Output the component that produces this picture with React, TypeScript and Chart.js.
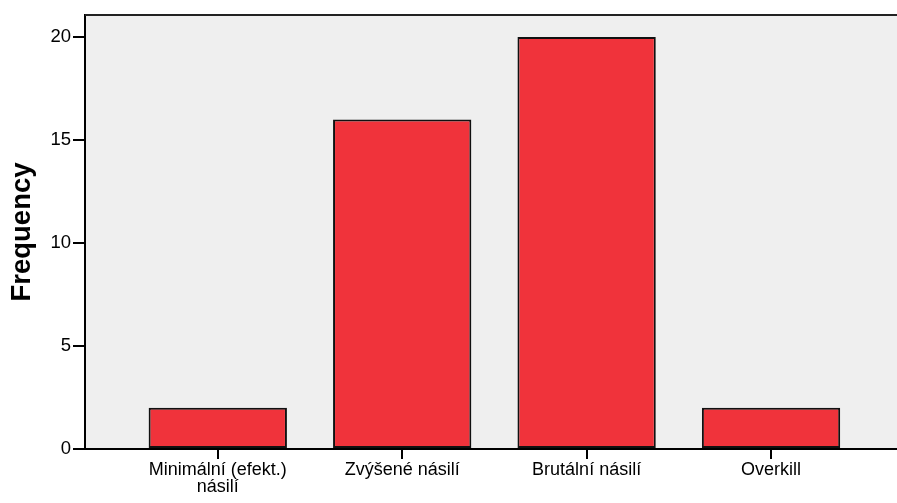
import React, { useEffect, useRef } from "react";
import { Chart, registerables } from "chart.js";

Chart.register(...registerables);

const categories: string[][] = [
  ["Minimální (efekt.)", "násilí"],
  ["Zvýšené násilí"],
  ["Brutální násilí"],
  ["Overkill"],
];
const frequencies: number[] = [2, 16, 20, 2];
const yTicks: number[] = [0, 5, 10, 15, 20];
const yTitle = "Frequency";

const FONT = "Arial, 'Liberation Sans', sans-serif";

const plotFrame = {
  id: "plotFrame",
  beforeDraw(chart: any) {
    const { ctx, chartArea } = chart;
    ctx.save();
    ctx.fillStyle = "#EFEFEF";
    ctx.fillRect(chartArea.left, chartArea.top, chartArea.right - chartArea.left, chartArea.bottom - chartArea.top);
    ctx.restore();
  },
  afterDraw(chart: any) {
    const { ctx, chartArea } = chart;
    ctx.save();
    ctx.strokeStyle = "#222222";
    ctx.lineWidth = 2;
    ctx.beginPath();
    ctx.moveTo(chartArea.left, chartArea.top);
    ctx.lineTo(chartArea.right, chartArea.top);
    ctx.stroke();
    ctx.restore();
  },
};

export default function App() {
  const canvasRef = useRef<HTMLCanvasElement | null>(null);

  useEffect(() => {
    document.body.style.margin = "0";
    const canvas = canvasRef.current;
    if (!canvas) return;
    const chart = new Chart(canvas, {
      type: "bar",
      data: {
        datasets: [
          {
            data: frequencies.map((v, i) => ({ x: i, y: v })),
            backgroundColor: "#F0333B",
            borderColor: "#111111",
            borderWidth: 2,
            borderSkipped: false,
            categoryPercentage: 0.75,
            barPercentage: 1,
          },
        ],
      },
      options: {
        animation: false,
        responsive: false,
        devicePixelRatio: 1,
        layout: { padding: { top: 15, left: 0, right: 0, bottom: 0 } },
        plugins: { legend: { display: false }, tooltip: { enabled: false } },
        scales: {
          x: {
            type: "linear",
            offset: false,
            min: -0.72,
            max: 3.683,
            afterBuildTicks: (scale: any) => {
              scale.ticks = categories.map((_, i) => ({ value: i }));
            },
            afterFit: (scale: any) => {
              scale.height = 54;
            },
            ticks: {
              autoSkip: false,
              maxRotation: 0,
              minRotation: 0,
              padding: 2,
              color: "#000",
              font: { family: FONT, size: 18, lineHeight: 0.95 },
              callback: (v: any) => {
                const c = categories[Math.round(Number(v))];
                return c ? c : "";
              },
            },
            grid: {
              offset: false,
              drawOnChartArea: false,
              drawTicks: true,
              tickLength: 10,
              color: "#000",
              lineWidth: 2,
            },
            border: { display: true, color: "#000", width: 2 },
          },
          y: {
            min: 0,
            max: 21.07,
            afterBuildTicks: (scale: any) => {
              scale.ticks = yTicks.map((v) => ({ value: v }));
            },
            afterFit: (scale: any) => {
              scale.width = 85;
            },
            ticks: {
              padding: 2,
              color: "#000",
              font: { family: FONT, size: 18.5 },
            },
            grid: {
              drawOnChartArea: false,
              drawTicks: true,
              tickLength: 12,
              color: "#000",
              lineWidth: 2,
            },
            border: { display: true, color: "#000", width: 2 },
            title: {
              display: true,
              text: yTitle,
              color: "#000",
              font: { family: FONT, size: 27.5, weight: "bold" },
              padding: { top: 6, bottom: 0 },
            },
          },
        },
      },
      plugins: [plotFrame],
    });
    return () => chart.destroy();
  }, []);

  return (
    <div style={{ position: "absolute", left: 0, top: 0, width: 897, height: 503 }}>
      <canvas ref={canvasRef} width={897} height={503} />
    </div>
  );
}
